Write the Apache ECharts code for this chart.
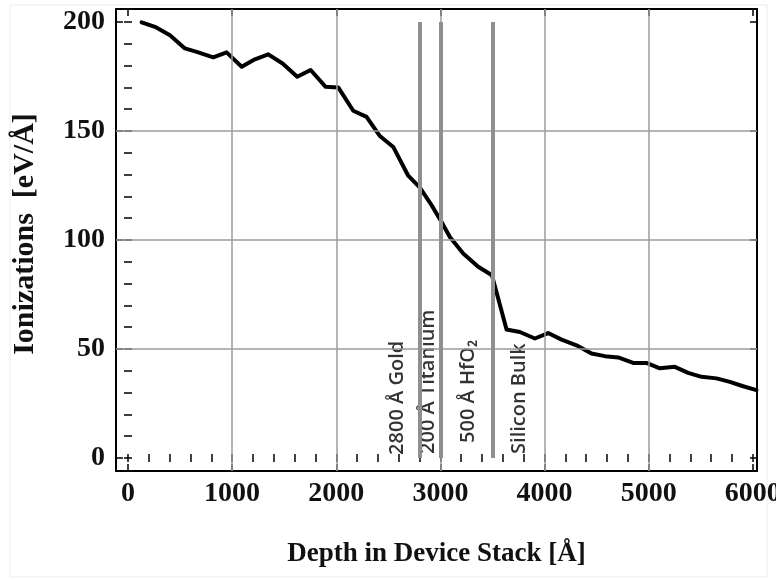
<!DOCTYPE html>
<html>
<head>
<meta charset="utf-8">
<script src="https://cdn.jsdelivr.net/npm/echarts@6/dist/echarts.min.js"></script>
<style>
  html, body { margin: 0; padding: 0; background: #ffffff; }
  #chart { width: 776px; height: 580px; }
</style>
</head>
<body>
<div id="chart"></div>
<script>
// Energy deposited per unit depth through the device stack
const depth = [131, 259, 403, 547, 675, 819, 947, 1092, 1219, 1347, 1485, 1625, 1754, 1898, 2019,
  2163, 2291, 2419, 2547, 2691, 2803, 2915, 3011, 3091, 3219, 3363, 3495, 3635, 3763, 3907,
  4035, 4163, 4307, 4451, 4579, 4707, 4851, 4979, 5107, 5251, 5379, 5507, 5651, 5779, 5907, 6035];
const ionization = [199.9, 197.8, 194.0, 187.9, 186.1, 183.8, 186.1, 179.5, 182.9, 185.2, 181.0, 174.9, 178.0, 170.3, 170.0,
  159.3, 156.5, 147.7, 142.7, 129.5, 124.0, 116.0, 108.3, 101.4, 93.8, 87.7, 83.8, 58.9, 57.8, 54.8,
  57.3, 54.3, 51.7, 47.9, 46.7, 46.1, 43.6, 43.6, 41.1, 41.8, 39.0, 37.2, 36.5, 34.9, 32.9, 31.1];

// Axis ticks and grid
const xTickValues = [0, 1000, 2000, 3000, 4000, 5000, 6000];
const yTickValues = [0, 50, 100, 150, 200];
const xMinorStep = 200;
const yMinorStep = 10;
const xGridValues = [1000, 2000, 3000, 4000, 5000];
const yGridValues = [50, 100, 150];

// Layer boundaries in the stack and their captions
const layerBoundaries = [2800, 3000, 3500];
const layerTop = 200;
const layerLabels = ['2800 Å Gold', '200 Å Titanium', '500 Å HfO₂', 'Silicon Bulk'];
const layerLabelBoundary = [2800, 2800, 3000, 3500];
// pixel nudges for each caption: [along text (up), across text (right)]
const layerLabelOffsets = [[3, -22], [4, 9], [15, 28], [4, 27]];

function steps(from, to, step) {
  const out = [];
  for (let v = from; v <= to + 1e-9; v += step) out.push(v);
  return out;
}
const xMinorValues = steps(xTickValues[0], xTickValues[xTickValues.length - 1], xMinorStep);
const yMinorValues = steps(yTickValues[0], yTickValues[yTickValues.length - 1], yMinorStep);

const X_MIN = -115, X_MAX = 6040, Y_MIN = -6, Y_MAX = 206;
const serif = '"Liberation Serif", "Times New Roman", serif';
const frame = { show: true, onZero: false, lineStyle: { color: '#000', width: 2 } };
const plain = v => String(v);

function xAxisDef(position, ticks, len, withLine, extra) {
  return Object.assign({
    type: 'value', position: position, min: X_MIN, max: X_MAX,
    axisLine: withLine ? frame : { show: false },
    axisTick: { show: true, inside: true, length: len, customValues: ticks, lineStyle: { color: '#000', width: 1.5 } },
    axisLabel: { show: false },
    splitLine: { show: false }
  }, extra || {});
}
function yAxisDef(position, ticks, len, withLine, extra) {
  return Object.assign({
    type: 'value', position: position, min: Y_MIN, max: Y_MAX,
    axisLine: withLine ? frame : { show: false },
    axisTick: { show: true, inside: true, length: len, customValues: ticks, lineStyle: { color: '#000', width: 1.5 } },
    axisLabel: { show: false },
    splitLine: { show: false }
  }, extra || {});
}

const chart = echarts.init(document.getElementById('chart'), null, { renderer: 'canvas' });

chart.setOption({
  animation: false,
  backgroundColor: '#ffffff',
  graphic: [{
    type: 'rect', silent: true, z: -10,
    shape: { x: 10, y: 5, width: 757, height: 572 },
    style: { fill: 'none', stroke: '#ececec', lineWidth: 1 }
  }],
  grid: { left: 116, right: 19, top: 9, bottom: 109, containLabel: false, outerBoundsMode: 'none' },
  xAxis: [
    xAxisDef('bottom', xTickValues, 7, true, {
      axisLabel: {
        show: true, customValues: xTickValues, margin: 9, formatter: plain,
        hideOverlap: false,
        fontFamily: serif, fontWeight: 'bold', fontSize: 28, color: '#111'
      },
      name: 'Depth in Device Stack [Å]', nameLocation: 'middle', nameGap: 70,
      nameTextStyle: { fontFamily: serif, fontWeight: 'bold', fontSize: 27, color: '#111' }
    }),
    xAxisDef('bottom', xMinorValues, 4, false),
    xAxisDef('top', xTickValues, 7, true),
    xAxisDef('top', xMinorValues, 4, false)
  ],
  yAxis: [
    yAxisDef('left', yTickValues, 7, true, {
      axisLabel: {
        show: true, customValues: yTickValues, margin: 11, formatter: plain,
        fontFamily: serif, fontWeight: 'bold', fontSize: 28, color: '#111'
      },
      name: 'Ionizations  [eV/Å]', nameLocation: 'middle', nameGap: 76,
      nameTextStyle: {
        fontFamily: serif, fontWeight: 'bold', fontSize: 30, color: '#111',
        padding: [0, 0, 0, 12]
      }
    }),
    yAxisDef('left', yMinorValues, 4, false),
    yAxisDef('right', yTickValues, 7, true),
    yAxisDef('right', yMinorValues, 4, false)
  ],
  series: [
    {
      // background grid
      type: 'line', data: [], z: 1, silent: true,
      markLine: {
        silent: true, symbol: ['none', 'none'], label: { show: false },
        lineStyle: { color: '#9b9b9b', width: 1.5, type: 'solid' },
        emphasis: { disabled: true },
        data: xGridValues.map(v => ({ xAxis: v })).concat(yGridValues.map(v => ({ yAxis: v })))
      }
    },
    {
      // layer boundaries
      type: 'line', data: [], z: 2, silent: true,
      markLine: {
        silent: true, symbol: ['none', 'none'], label: { show: false },
        lineStyle: { color: '#8f8f8f', width: 4, type: 'solid' },
        emphasis: { disabled: true },
        data: layerBoundaries.map(v => [{ coord: [v, 0] }, { coord: [v, layerTop] }])
      }
    },
    {
      type: 'line', z: 3, silent: true,
      data: depth.map((d, i) => [d, ionization[i]]),
      showSymbol: false, symbol: 'none', clip: true,
      lineStyle: { color: '#000', width: 4, join: 'round', cap: 'round' }
    },
    {
      type: 'scatter', z: 4, silent: true, symbolSize: 0,
      data: layerLabels.map((t, i) => ({
        name: t,
        value: [layerLabelBoundary[i], 0],
        label: { offset: layerLabelOffsets[i] }
      })),
      label: {
        show: true, formatter: '{b}', position: 'inside', rotate: 90,
        align: 'left', verticalAlign: 'middle',
        fontFamily: '"Open Sans", "Noto Sans", sans-serif', fontSize: 20,
        fontWeight: 600, color: '#000'
      }
    }
  ]
});
</script>
</body>
</html>
